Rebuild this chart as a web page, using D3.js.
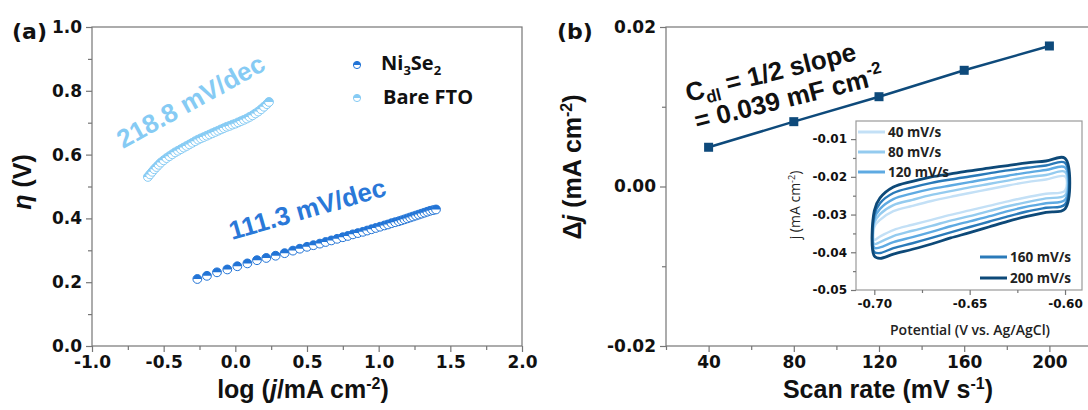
<!DOCTYPE html>
<html>
<head>
<meta charset="utf-8">
<script src="https://cdn.jsdelivr.net/npm/d3@7"></script>
<style>
  body { margin: 0; background: #fff; }
  svg { display: block; }
</style>
</head>
<body>
<svg id="chart" width="1088" height="410"></svg>
<script>
// ---------- data: panel (a) Tafel ----------
const ni3se2LogJ = [-0.265, -0.198, -0.128, -0.056, 0.014, 0.084, 0.151, 0.216, 0.281, 0.344, 0.402,
  0.45, 0.50, 0.545, 0.59, 0.63, 0.67, 0.71, 0.75, 0.785, 0.82, 0.855, 0.89, 0.92, 0.95, 0.98,
  1.01, 1.04, 1.065, 1.09, 1.115, 1.14, 1.16, 1.18, 1.20, 1.22, 1.24, 1.26, 1.28, 1.30, 1.32,
  1.34, 1.36, 1.38, 1.40];
const ni3se2Eta = [0.210, 0.220, 0.231, 0.240, 0.250, 0.259, 0.269, 0.276, 0.283, 0.291, 0.299,
  0.305, 0.311, 0.316, 0.321, 0.326, 0.331, 0.336, 0.341, 0.345, 0.350, 0.354, 0.358, 0.362, 0.366, 0.370,
  0.374, 0.378, 0.381, 0.385, 0.388, 0.391, 0.394, 0.397, 0.400, 0.403, 0.406, 0.409, 0.412, 0.415, 0.418,
  0.421, 0.424, 0.426, 0.428];
const ftoLogJ = [-0.61, -0.595, -0.58, -0.565, -0.55, -0.535, -0.52, -0.50, -0.48, -0.46, -0.44,
  -0.42, -0.40, -0.38, -0.36, -0.34, -0.32, -0.30, -0.28, -0.26, -0.24, -0.22, -0.20, -0.18, -0.16,
  -0.14, -0.12, -0.10, -0.08, -0.06, -0.04, -0.02, 0.00, 0.02, 0.04, 0.06, 0.08, 0.10, 0.12, 0.14,
  0.16, 0.18, 0.20, 0.22, 0.235];
const ftoEta = [0.530, 0.538, 0.546, 0.554, 0.561, 0.568, 0.575, 0.582, 0.589, 0.595, 0.601,
  0.607, 0.612, 0.617, 0.622, 0.627, 0.632, 0.637, 0.642, 0.647, 0.651, 0.655, 0.659, 0.663, 0.667,
  0.671, 0.675, 0.679, 0.683, 0.687, 0.690, 0.694, 0.697, 0.701, 0.705, 0.709, 0.713, 0.718, 0.723, 0.729,
  0.735, 0.742, 0.750, 0.758, 0.765];
const aXTicks = [-1.0, -0.5, 0.0, 0.5, 1.0, 1.5, 2.0];
const aXMinor = [-0.75, -0.25, 0.25, 0.75, 1.25, 1.75];
const aYTicks = [0.0, 0.2, 0.4, 0.6, 0.8, 1.0];
const aYMinor = [0.1, 0.3, 0.5, 0.7, 0.9];

// ---------- data: panel (b) Cdl ----------
const scanRates = [40, 80, 120, 160, 200];
const deltaJ = [0.00492, 0.00813, 0.01126, 0.01457, 0.01762];
const bXTicks = [40, 80, 120, 160, 200];
const bXMinor = [20, 60, 100, 140, 180];
const bYTicks = [-0.02, 0.00, 0.02];
const bYMinor = [-0.01, 0.01];

// ---------- data: inset CV loops ----------
const cvPotential = [-0.700, -0.697, -0.69, -0.68, -0.67, -0.66, -0.65, -0.64, -0.63, -0.62, -0.61, -0.60];
const cvUpper40  = [-0.0333, -0.0314, -0.0291, -0.0277, -0.0264, -0.0253, -0.0243, -0.0233, -0.0223, -0.0214, -0.0207, -0.0199];
const cvLower40  = [-0.0367, -0.0358, -0.0341, -0.0327, -0.0314, -0.0301, -0.0289, -0.0277, -0.0265, -0.0254, -0.0245, -0.0237];
const cvUpper80  = [-0.0322, -0.0299, -0.0275, -0.0261, -0.0248, -0.0238, -0.0228, -0.0219, -0.0210, -0.0201, -0.0195, -0.0187];
const cvLower80  = [-0.0378, -0.0373, -0.0357, -0.0343, -0.0330, -0.0316, -0.0304, -0.0291, -0.0278, -0.0267, -0.0257, -0.0249];
const cvUpper120 = [-0.0312, -0.0285, -0.0259, -0.0244, -0.0232, -0.0223, -0.0214, -0.0205, -0.0197, -0.0189, -0.0182, -0.0175];
const cvLower120 = [-0.0388, -0.0387, -0.0373, -0.0360, -0.0346, -0.0331, -0.0318, -0.0305, -0.0291, -0.0279, -0.0270, -0.0261];
const cvUpper160 = [-0.0301, -0.0270, -0.0243, -0.0228, -0.0216, -0.0207, -0.0199, -0.0191, -0.0183, -0.0176, -0.0170, -0.0163];
const cvLower160 = [-0.0399, -0.0402, -0.0389, -0.0376, -0.0362, -0.0347, -0.0333, -0.0319, -0.0305, -0.0292, -0.0282, -0.0273];
const cvUpper200 = [-0.0290, -0.0256, -0.0227, -0.0212, -0.0200, -0.0192, -0.0184, -0.0177, -0.0170, -0.0163, -0.0158, -0.0151];
const cvLower200 = [-0.0410, -0.0416, -0.0405, -0.0392, -0.0378, -0.0362, -0.0348, -0.0333, -0.0318, -0.0305, -0.0294, -0.0285];
const cvLabels = ['40 mV/s', '80 mV/s', '120 mV/s', '160 mV/s', '200 mV/s'];
const insetXTicks = [-0.70, -0.65, -0.60];
const insetXMinor = [-0.675, -0.625];
const insetYTicks = [-0.05, -0.04, -0.03, -0.02, -0.01];
const insetYMinor = [-0.045, -0.035, -0.025, -0.015];

const svg = d3.select('#chart');
const axisColor = '#767676';
const tickFont = '"DejaVu Sans", Verdana, sans-serif';
const legendFont = '"Open Sans", Lato, sans-serif';
const titleFont = '"Liberation Sans", Arial, sans-serif';

// shared axis helper: minor + major ticks, outward, labels on major
function drawAxis(g, axisFn, scale, major, minor, fmt, majorLen, minorLen, fontSize) {
  g.append('g').call(axisFn(scale).tickValues(minor).tickSize(minorLen).tickFormat(''));
  const ga = g.append('g').call(axisFn(scale).tickValues(major).tickSize(majorLen).tickFormat(fmt).tickPadding(4));
  g.selectAll('.domain').remove();
  g.selectAll('line').attr('stroke', axisColor).attr('stroke-width', 1.2);
  ga.selectAll('text')
    .attr('fill', '#111')
    .style('font-family', tickFont)
    .style('font-weight', 700)
    .style('font-size', fontSize + 'px');
  return ga;
}

function frame(x0, y0, x1, y1) {
  svg.append('rect')
    .attr('x', x0).attr('y', y0)
    .attr('width', x1 - x0).attr('height', y1 - y0)
    .attr('fill', 'none')
    .attr('stroke', axisColor)
    .attr('stroke-width', 1.2);
}

///////////////////////////
// Panel (a)
///////////////////////////
const aL = 92, aR = 522, aT = 27, aB = 346;
const xA = d3.scaleLinear().domain([-1.0, 2.0]).range([aL, aR]);
const yA = d3.scaleLinear().domain([0, 1.0]).range([aB, aT]);

frame(aL, aT, aR, aB);
drawAxis(svg.append('g').attr('transform', `translate(0,${aB})`), d3.axisBottom, xA,
  aXTicks, aXMinor, d => d.toFixed(1), 6, 4, 17);
drawAxis(svg.append('g').attr('transform', `translate(${aL},0)`), d3.axisLeft, yA,
  aYTicks, aYMinor, d => d.toFixed(1), 6, 4, 17);

// half-filled circle markers
const topHalf = d3.arc().innerRadius(0).outerRadius(4.4).startAngle(-Math.PI / 2).endAngle(Math.PI / 2);

function halfMarkers(xs, ys, color) {
  const pts = xs.map((x, i) => ({ x: x, y: ys[i] }));
  const g = svg.append('g');
  const m = g.selectAll('g').data(pts).enter().append('g')
    .attr('transform', d => `translate(${xA(d.x)},${yA(d.y)})`);
  m.append('circle').attr('r', 4.4).attr('fill', '#fff').attr('stroke', color).attr('stroke-width', 1);
  m.append('path').attr('d', topHalf).attr('fill', color);
}

halfMarkers(ftoLogJ, ftoEta, '#86cbf4');
halfMarkers(ni3se2LogJ, ni3se2Eta, '#2274d6');

// legend (a)
const legA = [{ color: '#2274d6', y: 65 }, { color: '#86cbf4', y: 98 }];
legA.forEach(l => {
  const g = svg.append('g').attr('transform', `translate(357,${l.y})`);
  g.append('circle').attr('r', 3.6).attr('fill', '#fff').attr('stroke', l.color);
  g.append('path').attr('d', d3.arc().innerRadius(0).outerRadius(3.6).startAngle(-Math.PI / 2).endAngle(Math.PI / 2)).attr('fill', l.color);
});
const ni = svg.append('text').attr('x', 381).attr('y', 70)
  .style('font-family', legendFont).style('font-weight', 700).style('font-size', '20px').attr('fill', '#111');
ni.append('tspan').text('Ni');
ni.append('tspan').text('3').style('font-size', '13px').attr('dy', 5);
ni.append('tspan').text('Se').attr('dy', -5);
ni.append('tspan').text('2').style('font-size', '13px').attr('dy', 5);
svg.append('text').attr('x', 383).attr('y', 104).text('Bare FTO')
  .style('font-family', legendFont).style('font-weight', 700).style('font-size', '20px').attr('fill', '#111');

// slope annotations
svg.append('text').attr('transform', 'translate(123,149) rotate(-29)').text('218.8 mV/dec')
  .style('font-family', titleFont).style('font-weight', 700).style('font-size', '26px').attr('fill', '#86cbf4');
svg.append('text').attr('transform', 'translate(232,240) rotate(-16)').text('111.3 mV/dec')
  .style('font-family', titleFont).style('font-weight', 700).style('font-size', '26px').attr('fill', '#2a78d8');

// labels (a)
svg.append('text').attr('x', 12).attr('y', 39).text('(a)')
  .style('font-family', tickFont).style('font-weight', 700).style('font-size', '22px').attr('fill', '#111');
const yTitleA = svg.append('text').attr('transform', 'translate(31,182) rotate(-90)').attr('text-anchor', 'middle')
  .style('font-family', titleFont).style('font-weight', 700).style('font-size', '25px').attr('fill', '#111');
yTitleA.append('tspan').text('η').style('font-style', 'italic');
yTitleA.append('tspan').text(' (V)');
const xTitleA = svg.append('text').attr('x', 303).attr('y', 398).attr('text-anchor', 'middle')
  .style('font-family', titleFont).style('font-weight', 700).style('font-size', '25px').attr('fill', '#111');
xTitleA.append('tspan').text('log (');
xTitleA.append('tspan').text('j').style('font-style', 'italic');
xTitleA.append('tspan').text('/mA cm');
xTitleA.append('tspan').text('-2').style('font-size', '16px').attr('dy', -9);
xTitleA.append('tspan').text(')').attr('dy', 9);

///////////////////////////
// Panel (b)
///////////////////////////
const bL = 666, bR = 1092, bT = 27, bB = 346;
const xB = d3.scaleLinear().domain([20, 220]).range([bL, bR]);
const yB = d3.scaleLinear().domain([-0.02, 0.02]).range([bB, bT]);

frame(bL, bT, bR, bB);
drawAxis(svg.append('g').attr('transform', `translate(0,${bB})`), d3.axisBottom, xB,
  bXTicks, bXMinor, d => String(d), 6, 4, 17);
drawAxis(svg.append('g').attr('transform', `translate(${bL},0)`), d3.axisLeft, yB,
  bYTicks, bYMinor, d => d.toFixed(2), 6, 4, 17);

const lineColor = '#0e4a7b';
const cdlPts = scanRates.map((s, i) => ({ x: s, y: deltaJ[i] }));
svg.append('path')
  .datum(cdlPts)
  .attr('d', d3.line().x(d => xB(d.x)).y(d => yB(d.y)))
  .attr('fill', 'none')
  .attr('stroke', lineColor)
  .attr('stroke-width', 2.5);
svg.append('g').selectAll('rect').data(cdlPts).enter().append('rect')
  .attr('x', d => xB(d.x) - 4.5).attr('y', d => yB(d.y) - 4.5)
  .attr('width', 9).attr('height', 9)
  .attr('fill', lineColor);

// Cdl annotation
const cdl1 = svg.append('text').attr('transform', 'translate(688,102) rotate(-14)')
  .style('font-family', titleFont).style('font-weight', 700).style('font-size', '26px').attr('fill', '#111');
cdl1.append('tspan').text('C');
cdl1.append('tspan').text('dl').style('font-size', '17px').attr('dy', 6);
cdl1.append('tspan').text(' = 1/2 slope').attr('dy', -6);
const cdl2 = svg.append('text').attr('transform', 'translate(697,130) rotate(-14)')
  .style('font-family', titleFont).style('font-weight', 700).style('font-size', '26px').attr('fill', '#111');
cdl2.append('tspan').text('= 0.039 mF cm');
cdl2.append('tspan').text('-2').style('font-size', '17px').attr('dy', -11);

// labels (b)
svg.append('text').attr('x', 557).attr('y', 39).text('(b)')
  .style('font-family', tickFont).style('font-weight', 700).style('font-size', '22px').attr('fill', '#111');
const yTitleB = svg.append('text').attr('transform', 'translate(581,167) rotate(-90)').attr('text-anchor', 'middle')
  .style('font-family', titleFont).style('font-weight', 700).style('font-size', '25px').attr('fill', '#111');
yTitleB.append('tspan').text('Δ');
yTitleB.append('tspan').text('j').style('font-style', 'italic');
yTitleB.append('tspan').text(' (mA cm');
yTitleB.append('tspan').text('-2').style('font-size', '16px').attr('dy', -9);
yTitleB.append('tspan').text(')').attr('dy', 9);
const xTitleB = svg.append('text').attr('x', 888).attr('y', 398).attr('text-anchor', 'middle')
  .style('font-family', titleFont).style('font-weight', 700).style('font-size', '25px').attr('fill', '#111');
xTitleB.append('tspan').text('Scan rate (mV s');
xTitleB.append('tspan').text('-1').style('font-size', '16px').attr('dy', -9);
xTitleB.append('tspan').text(')').attr('dy', 9);

///////////////////////////
// Inset CV
///////////////////////////
const iL = 856, iR = 1082, iT = 121, iB = 290;
const xI = d3.scaleLinear().domain([-0.7096, -0.5911]).range([iL, iR]);
const yI = d3.scaleLinear().domain([-0.05, -0.0052]).range([iB, iT]);

svg.append('rect').attr('x', iL).attr('y', iT).attr('width', iR - iL).attr('height', iB - iT)
  .attr('fill', '#fff').attr('stroke', '#9a9a9a').attr('stroke-width', 1.2);
drawAxis(svg.append('g').attr('transform', `translate(0,${iB})`), d3.axisBottom, xI,
  insetXTicks, insetXMinor, d => d.toFixed(2), 5, 3, 12);
drawAxis(svg.append('g').attr('transform', `translate(${iL},0)`), d3.axisLeft, yI,
  insetYTicks, insetYMinor, d => d.toFixed(2), 5, 3, 12);

const cvColors = ['#c3e0f6', '#94cbef', '#5eaae2', '#2a7ab9', '#0d4978'];
const cvUppers = [cvUpper40, cvUpper80, cvUpper120, cvUpper160, cvUpper200];
const cvLowers = [cvLower40, cvLower80, cvLower120, cvLower160, cvLower200];
const cvLine = d3.line().x(d => xI(d[0])).y(d => yI(d[1])).curve(d3.curveCatmullRomClosed.alpha(0.5));

cvUppers.forEach((up, k) => {
  const loop = cvPotential.map((e, i) => [e, up[i]])
    .concat(cvPotential.map((e, i) => [e, cvLowers[k][i]]).reverse());
  svg.append('path')
    .datum(loop)
    .attr('d', cvLine)
    .attr('fill', 'none')
    .attr('stroke', cvColors[k])
    .attr('stroke-width', k === 4 ? 2.8 : 2.4);
});

// inset legend
const legPos = [[858, 132], [858, 152], [858, 172], [980, 257], [980, 278]];
cvLabels.forEach((t, k) => {
  const [lx, ly] = legPos[k];
  svg.append('line').attr('x1', lx).attr('x2', lx + 27).attr('y1', ly).attr('y2', ly)
    .attr('stroke', cvColors[k]).attr('stroke-width', 3);
  svg.append('text').attr('x', lx + 30).attr('y', ly + 5).text(t)
    .style('font-family', legendFont).style('font-weight', 700).style('font-size', '13.5px').attr('fill', '#222');
});

// inset titles
const yTitleI = svg.append('text').attr('transform', 'translate(800,205) rotate(-90)').attr('text-anchor', 'middle')
  .style('font-family', legendFont).style('font-size', '14px').attr('fill', '#222');
yTitleI.append('tspan').text('j (mA cm');
yTitleI.append('tspan').text('-2').style('font-size', '9px').attr('dy', -5);
yTitleI.append('tspan').text(')').attr('dy', 5);
svg.append('text').attr('x', 970).attr('y', 335).attr('text-anchor', 'middle').text('Potential (V vs. Ag/AgCl)')
  .style('font-family', legendFont).style('font-weight', 600).style('font-size', '14px').attr('fill', '#222');
</script>
</body>
</html>
